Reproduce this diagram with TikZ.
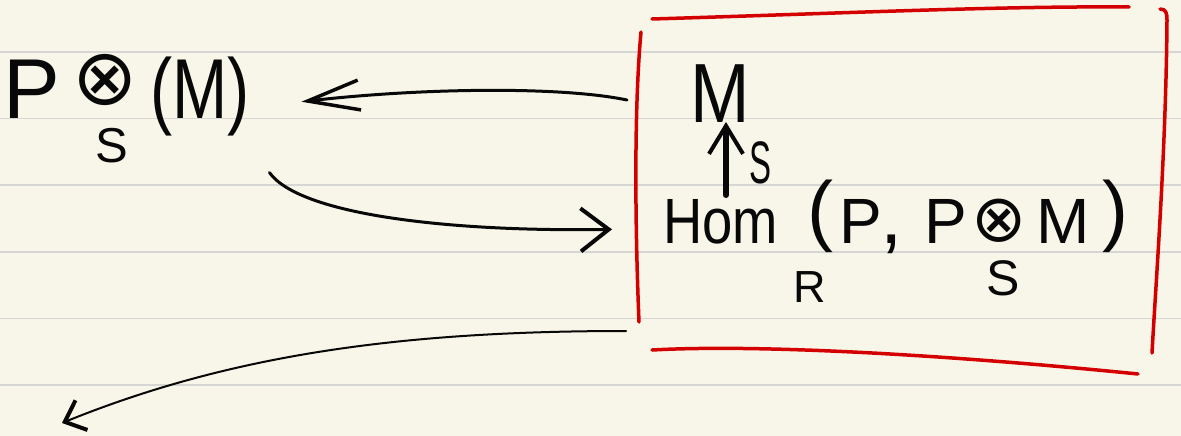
\documentclass[tikz,border=0pt]{standalone}
\usepackage{fontspec}
\setmainfont{Liberation Sans}
\newfontfamily\symf{DejaVu Sans}
\usepackage{graphicx}
\usetikzlibrary{arrows.meta}
\definecolor{paper}{HTML}{F8F6E9}
\definecolor{ruleline}{HTML}{D6D6D4}
\definecolor{ink}{HTML}{080808}
\definecolor{redink}{HTML}{D40000}
\newcommand{\fsz}[1]{\fontsize{#1}{#1}\selectfont}
\tikzset{
  txt/.style={inner sep=0pt, outer sep=0pt, text=ink},
  pen/.style={draw=ink, line width=3pt, line cap=round, line join=round},
  redpen/.style={draw=redink, line width=3.5pt, line cap=round}
}
\begin{document}
\begin{tikzpicture}[x=1pt,y=-1pt]
\fill[paper] (0,0) rectangle (1181,436);
\useasboundingbox (0,0) rectangle (1181,436);
\foreach \yy in {52,118.5,185,252,318.5,385}
  \draw[ruleline, line width=1.6pt] (0,\yy) -- (1181,\yy);

% left expression
\node[txt, anchor=base west, font=\fsz{85}] (lt) at (4,118)
  {P\kern12pt\raisebox{14pt}{\fsz{78}\symf ⊗}\kern12pt\scalebox{0.78}[1]{(M)}};
\node[txt, anchor=base, font=\fsz{49}] (lts) at (112,162) {S};

% boxed content
\node[txt, anchor=base, font=\fsz{84}] (m) at (720,122) {\scalebox{0.85}[1]{M}};
\node[txt, anchor=base, font=\fsz{60}] (ms) at (760,183) {\scalebox{0.55}[1]{S}};
\node[txt, anchor=base west, font=\fsz{64}] (hom) at (663,243)
  {\scalebox{0.85}[1]{Hom}\hspace{30pt}\raisebox{7pt}{\fsz{78}(}\kern6pt P\kern-2pt{\fsz{80},}\hspace{22pt}P\kern4pt\raisebox{2pt}{\fsz{66}\symf ⊗}\kern10pt M\kern12pt\raisebox{7pt}{\fsz{78})}};
\node[txt, anchor=base, font=\fsz{45}] (homr) at (810,302) {R};
\node[txt, anchor=base, font=\fsz{50}] (homs) at (1003,295) {S};

% red box (hand drawn strokes)
\draw[redpen] (652,19) .. controls (850,13) and (1000,6) .. (1129,7);
\draw[redpen] (1160,9) .. controls (1166,9) and (1167,13) .. (1167,20)
  .. controls (1166,150) and (1156,280) .. (1152,353);
\draw[redpen] (652,350) .. controls (760,344) and (950,355) .. (1138,374);
\draw[redpen] (641,32) .. controls (633,120) and (636,250) .. (639,322);

% connectors
\coordinate (upstart) at (726,195);
\draw[pen, line width=6pt, -{Straight Barb[length=28pt,width=34pt,line width=4pt]}]
  (upstart) -- (upstart |- m.south);

\coordinate (la) at (627,100);
\draw[pen, -{Straight Barb[length=52pt,width=30pt,line width=3.5pt]}]
  (la) .. controls (560,86) and (420,88) .. ([xshift=52pt,yshift=-7pt]lt.east);

\draw[pen, -{Straight Barb[length=28pt,width=43pt,line width=4pt]}]
  ([xshift=20pt,yshift=-37pt]lt.south east) .. controls (300,215) and (450,232) .. ([xshift=-51pt,yshift=-13pt]hom.west);

\coordinate (bs) at (626,331);
\coordinate (be) at (62,423);
\draw[pen, line width=2pt, -{Straight Barb[length=18pt,width=32pt,line width=4pt]}]
  (bs) .. controls (400,331) and (230,355) .. (be);
\end{tikzpicture}
\end{document}
